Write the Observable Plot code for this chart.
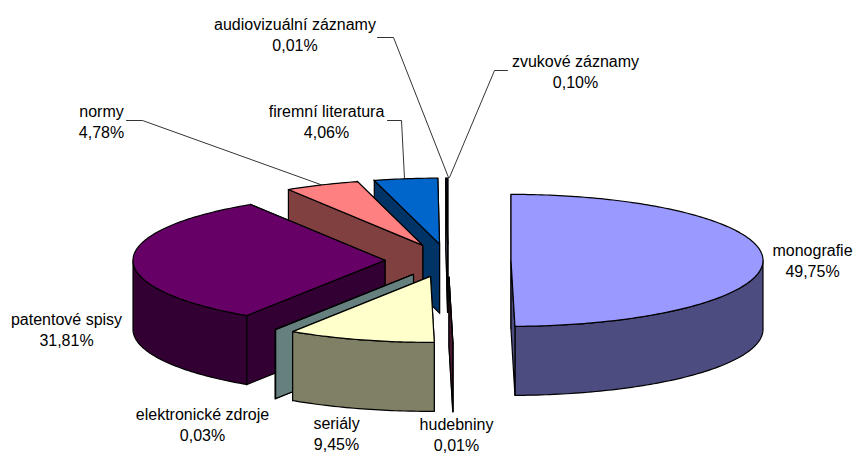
<!DOCTYPE html>
<html><head><meta charset="utf-8">
<script src="https://cdn.jsdelivr.net/npm/d3@7"></script>
<script src="https://cdn.jsdelivr.net/npm/@observablehq/plot@0.6"></script>
<style>html,body{margin:0;padding:0;background:#fff;overflow:hidden}svg{display:block}</style>
</head><body><div id="chart"></div>
<script>
const categories = ["monografie","hudebniny","seriály","elektronické zdroje","patentové spisy","normy","firemní literatura","audiovizuální záznamy","zvukové záznamy"];
const shares = [49.75,0.01,9.45,0.03,31.81,4.78,4.06,0.01,0.10];
const shareLabels = ["49,75%","0,01%","9,45%","0,03%","31,81%","4,78%","4,06%","0,01%","0,10%"];
const topColors = ["#9999FF","#993366","#FFFFCC","#CCFFFF","#660066","#FF8080","#0066CC","#CCCCFF","#000080"];
const sideColors = ["#4C4C80","#4C1933","#808066","#668080","#330033","#804040","#003366","#666680","#000040"];

// layout of the 3D pie
const W = 854, H = 453;
const cx = 447.5, cy = 260, rx = 252, ry = 66, depth = 69, explode = 0.25;
const labelX = [812,456,336,202,66,101,326,294.5,575];
const labelY = [259,433,432,423,328,120,120,33,70];
const leaderX = [[],[],[],[],[],[126,142,320],[387,401,404],[377,393,448],[507,494,449]];
const leaderY = [[],[],[],[],[],[120,120,184],[120,120,178],[37,37,177],[70,70,177]];

const rad = d => d * Math.PI / 180;
const total = d3.sum(shares);
let acc = 0;
const slices = categories.map((name, i) => {
  const a = acc * 360 / total; acc += shares[i];
  const b = acc * 360 / total;
  const m = (a + b) / 2;
  return {i, a, b,
    ax: cx + explode * rx * Math.sin(rad(m)),
    ay: cy - explode * ry * Math.cos(rad(m))};
});
const rim = (s, t, dy = 0) => [s.ax + rx * Math.sin(rad(t)), s.ay - ry * Math.cos(rad(t)) + dy];
const arc = (s, a, b, dy = 0) => {
  const n = Math.max(1, Math.ceil(b - a));
  return d3.range(n + 1).map(k => rim(s, a + (b - a) * k / n, dy));
};
const faces = [];
let fid = 0;
const pushFace = (pts, fill) => {
  const id = fid++;
  [...pts, pts[0]].forEach(([x, y]) => faces.push({x, y, id, fill}));
};
const cutFace = (s, t) => {
  const p = rim(s, t);
  return [[s.ax, s.ay], p, [p[0], p[1] + depth], [s.ax, s.ay + depth]];
};
[...slices].sort((p, q) => p.ay - q.ay).forEach(s => {
  const side = sideColors[s.i], top = topColors[s.i];
  const aVis = Math.sin(rad(s.a)) < 0, bVis = Math.sin(rad(s.b)) > 0;
  if (!aVis) pushFace(cutFace(s, s.a), side);
  if (!bVis) pushFace(cutFace(s, s.b), side);
  const w0 = Math.max(s.a, 90), w1 = Math.min(s.b, 270);
  if (w1 > w0) pushFace([...arc(s, w0, w1), ...arc(s, w0, w1, depth).reverse()], side);
  if (aVis) pushFace(cutFace(s, s.a), side);
  if (bVis) pushFace(cutFace(s, s.b), side);
  pushFace([[s.ax, s.ay], ...arc(s, s.a, s.b)], top);
});

const leaders = leaderX.flatMap((xs, i) => xs.map((x, k) => ({x, y: leaderY[i][k], i})));
const labels = categories.map((name, i) => ({name: name + "\n" + shareLabels[i], x: labelX[i], y: labelY[i]}));

const plot = Plot.plot({
  width: W, height: H, margin: 0,
  x: {domain: [0, W], range: [0, W], axis: null},
  y: {domain: [0, H], range: [0, H], axis: null},
  color: {type: "identity"},
  style: {background: "#fff"},
  marks: [
    Plot.line(faces, {x: "x", y: "y", z: "id", fill: "fill", stroke: "#000", strokeWidth: 1.2, strokeLinejoin: "miter", strokeMiterlimit: 3}),
    Plot.line(leaders, {x: "x", y: "y", z: "i", stroke: "#000", strokeWidth: 0.8}),
    Plot.text(labels, {x: "x", y: "y", text: "name", fontFamily: "Liberation Sans", fontSize: 16, lineHeight: 1.3, fill: "#000", textAnchor: "middle"})
  ]
});
document.getElementById("chart").append(plot);
</script></body></html>
